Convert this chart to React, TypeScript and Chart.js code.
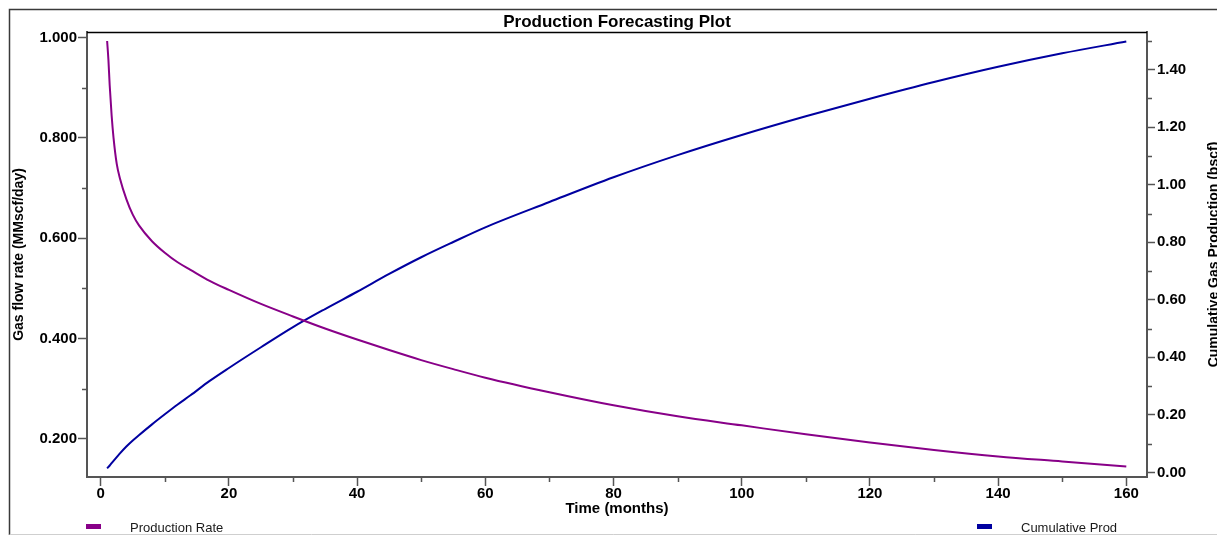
import { useEffect, useRef } from "react";
import { Chart, registerables } from "chart.js";

Chart.register(...registerables);

// Forecast time steps (months)
const months = [
  1, 1.2, 1.4, 1.7, 2, 2.5, 3, 4, 5, 6, 8, 10, 12, 14, 17, 20, 25, 30, 35, 40,
  45, 50, 55, 60, 70, 80, 90, 100, 110, 120, 130, 140, 150, 160,
];

// Gas flow rate, MMscf/day
const productionRate = [
  0.993, 0.956, 0.905, 0.845, 0.8, 0.748, 0.719, 0.678, 0.647, 0.625, 0.594,
  0.571, 0.552, 0.537, 0.515, 0.497, 0.469, 0.444, 0.42, 0.398, 0.377, 0.357,
  0.339, 0.322, 0.293, 0.267, 0.245, 0.227, 0.209, 0.193, 0.178, 0.165, 0.155,
  0.145,
];

// Cumulative gas production, bscf
const cumulativeProd = [
  0.014, 0.019, 0.024, 0.032, 0.04, 0.053, 0.066, 0.09, 0.111, 0.13, 0.167,
  0.202, 0.236, 0.268, 0.318, 0.363, 0.435, 0.505, 0.568, 0.628, 0.69, 0.748,
  0.801, 0.852, 0.94, 1.026, 1.103, 1.173, 1.238, 1.299, 1.357, 1.41, 1.457,
  1.498,
];

const xMinorTicks = [10, 30, 50, 70, 90, 110, 130, 150];
const rateMinorTicks = [0.3, 0.5, 0.7, 0.9];
const cumMinorTicks = [0.1, 0.3, 0.5, 0.7, 0.9, 1.1, 1.3, 1.5];

const FONT = "'Liberation Sans', Arial, Helvetica, sans-serif";
const AXIS_GRAY = "#555555";
const RATE_COLOR = "#880088";
const CUM_COLOR = "#0000a0";

const decorations = {
  id: "decorations",
  afterDraw(chart: any, _args: any, opts: any) {
    const { ctx, chartArea, scales } = chart;
    const W = chart.width;
    ctx.save();

    // outer frame
    ctx.strokeStyle = "#3a3a3a";
    ctx.lineWidth = 1.5;
    ctx.beginPath();
    ctx.moveTo(W + 2, 9.5);
    ctx.lineTo(9.5, 9.5);
    ctx.lineTo(9.5, 535);
    ctx.stroke();
    ctx.strokeStyle = "#cfcfcf";
    ctx.lineWidth = 1;
    ctx.beginPath();
    ctx.moveTo(9.5, 534.5);
    ctx.lineTo(W + 2, 534.5);
    ctx.stroke();

    // top edge of the plot area
    ctx.strokeStyle = "#000000";
    ctx.lineWidth = 1.5;
    ctx.beginPath();
    ctx.moveTo(chartArea.left, chartArea.top + 0.5);
    ctx.lineTo(chartArea.right, chartArea.top + 0.5);
    ctx.stroke();

    // minor ticks
    ctx.strokeStyle = AXIS_GRAY;
    ctx.lineWidth = 1.5;
    ctx.beginPath();
    for (const v of xMinorTicks) {
      const px = Math.round(scales.x.getPixelForValue(v)) + 0.5;
      ctx.moveTo(px, chartArea.bottom);
      ctx.lineTo(px, chartArea.bottom + 5);
    }
    for (const v of rateMinorTicks) {
      const py = Math.round(scales.y.getPixelForValue(v)) + 0.5;
      ctx.moveTo(chartArea.left, py);
      ctx.lineTo(chartArea.left - 5, py);
    }
    for (const v of cumMinorTicks) {
      const py = Math.round(scales.y1.getPixelForValue(v)) + 0.5;
      ctx.moveTo(chartArea.right, py);
      ctx.lineTo(chartArea.right + 5, py);
    }
    ctx.stroke();

    // title
    ctx.fillStyle = "#000000";
    ctx.font = `bold 17px ${FONT}`;
    ctx.textAlign = "center";
    ctx.textBaseline = "alphabetic";
    ctx.fillText(opts.title, (chartArea.left + chartArea.right) / 2, 27);

    // right axis title, reading bottom to top
    ctx.save();
    ctx.font = `bold 14px ${FONT}`;
    ctx.translate(1218, (chartArea.top + chartArea.bottom) / 2);
    ctx.rotate(-Math.PI / 2);
    ctx.textAlign = "center";
    ctx.fillText(opts.rightTitle, 0, 0);
    ctx.restore();

    // legend
    ctx.font = `13px ${FONT}`;
    ctx.textAlign = "left";
    chart.data.datasets.forEach((ds: any, i: number) => {
      const x = opts.legendX[i];
      ctx.fillStyle = ds.borderColor;
      ctx.fillRect(x, 524, 15, 5);
      ctx.fillStyle = "#1a1a1a";
      ctx.fillText(ds.label, x + 44, 532);
    });

    ctx.restore();
  },
};

export default function App() {
  const canvasRef = useRef<HTMLCanvasElement | null>(null);

  useEffect(() => {
    const canvas = canvasRef.current;
    if (!canvas) return;

    const tickFont = { family: FONT, size: 15, weight: "bold" as const };

    const chart = new Chart(canvas, {
      type: "line",
      data: {
        datasets: [
          {
            label: "Production Rate",
            data: months.map((m, i) => ({ x: m, y: productionRate[i] })),
            borderColor: RATE_COLOR,
            backgroundColor: RATE_COLOR,
            borderWidth: 2,
            pointRadius: 0,
            cubicInterpolationMode: "monotone",
            yAxisID: "y",
          },
          {
            label: "Cumulative Prod",
            data: months.map((m, i) => ({ x: m, y: cumulativeProd[i] })),
            borderColor: CUM_COLOR,
            backgroundColor: CUM_COLOR,
            borderWidth: 2,
            pointRadius: 0,
            cubicInterpolationMode: "monotone",
            yAxisID: "y1",
          },
        ],
      },
      options: {
        animation: false,
        responsive: false,
        devicePixelRatio: 1,
        layout: { padding: { top: 32, left: 0, right: 0, bottom: 0 } },
        plugins: {
          legend: { display: false },
          title: { display: false },
          tooltip: { enabled: false },
          decorations: {
            title: "Production Forecasting Plot",
            rightTitle: "Cumulative Gas Production (bscf)",
            legendX: [86, 977],
          },
        } as any,
        scales: {
          x: {
            type: "linear",
            position: "bottom",
            min: -2.14,
            max: 163.23,
            ticks: {
              stepSize: 20,
              includeBounds: false,
              autoSkip: false,
              maxRotation: 0,
              padding: -1,
              color: "#000000",
              font: tickFont,
            },
            grid: {
              drawOnChartArea: false,
              drawTicks: true,
              tickLength: 9,
              tickColor: AXIS_GRAY,
              tickWidth: 1.5,
            },
            border: { display: true, color: AXIS_GRAY, width: 2 },
            title: {
              display: true,
              text: "Time (months)",
              color: "#000000",
              font: { family: FONT, size: 15, weight: "bold" },
              padding: { top: 0, bottom: 19 },
            },
            afterFit: (s: any) => {
              s.height = 60;
            },
          },
          y: {
            type: "linear",
            position: "left",
            min: 0.124,
            max: 1.011,
            ticks: {
              stepSize: 0.2,
              includeBounds: false,
              padding: 1,
              color: "#000000",
              font: tickFont,
              callback: (v: any) => Number(v).toFixed(3),
            },
            grid: {
              drawOnChartArea: false,
              drawTicks: true,
              tickLength: 9,
              tickColor: AXIS_GRAY,
              tickWidth: 1.5,
            },
            border: { display: true, color: AXIS_GRAY, width: 2 },
            title: {
              display: true,
              text: "Gas flow rate (MMscf/day)",
              color: "#000000",
              font: { family: FONT, size: 14, weight: "bold" },
              padding: { top: 11, bottom: 0 },
            },
            afterFit: (s: any) => {
              s.width = 87;
            },
          },
          y1: {
            type: "linear",
            position: "right",
            min: -0.016,
            max: 1.531,
            ticks: {
              stepSize: 0.2,
              includeBounds: false,
              padding: 2,
              color: "#000000",
              font: tickFont,
              callback: (v: any) => Number(v).toFixed(2),
            },
            grid: {
              drawOnChartArea: false,
              drawTicks: true,
              tickLength: 8,
              tickColor: AXIS_GRAY,
              tickWidth: 1.5,
            },
            border: { display: true, color: AXIS_GRAY, width: 2 },
            afterFit: (s: any) => {
              s.width = 70;
            },
          },
        },
      } as any,
      plugins: [decorations],
    });

    return () => chart.destroy();
  }, []);

  return (
    <div
      style={{
        position: "fixed",
        left: 0,
        top: 0,
        width: 1217,
        height: 537,
        background: "#ffffff",
      }}
    >
      <canvas
        ref={canvasRef}
        width={1217}
        height={537}
        style={{ display: "block", width: 1217, height: 537 }}
      />
    </div>
  );
}
